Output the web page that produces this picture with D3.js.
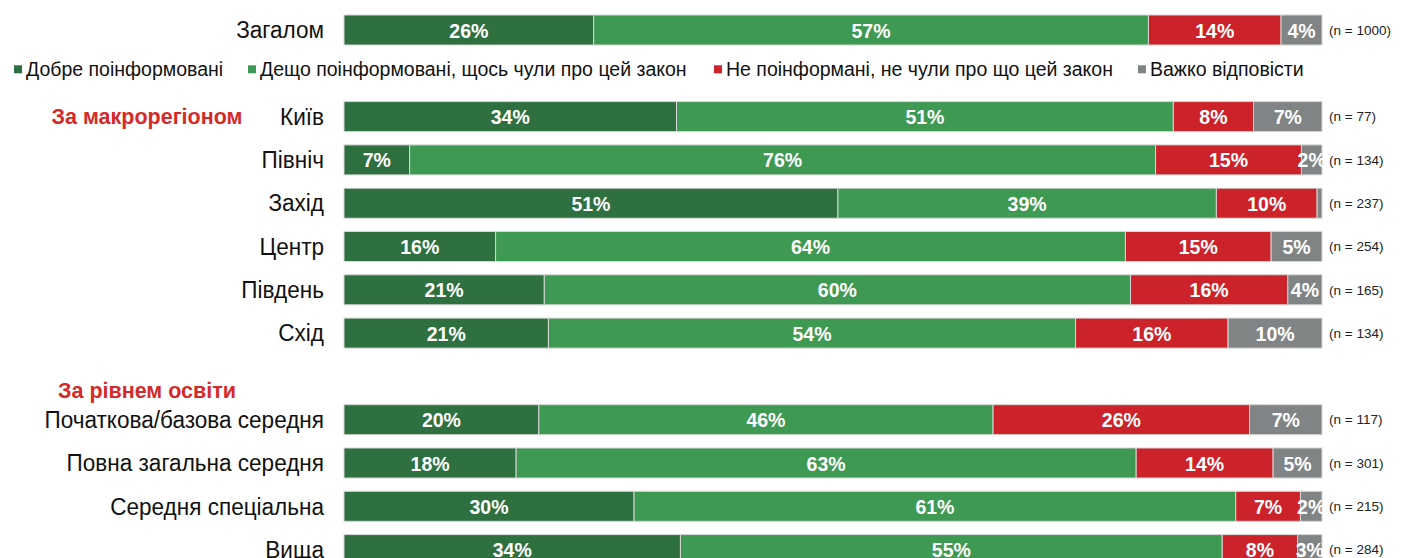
<!DOCTYPE html>
<html>
<head>
<meta charset="utf-8">
<script src="https://cdn.jsdelivr.net/npm/d3@7"></script>
<style>
  body { margin: 0; background: #fff; }
  svg { display: block; font-family: "Liberation Sans", Arial, sans-serif; }
</style>
</head>
<body>
<div id="chart"></div>
<script>
const width = 1405, height = 558;

// Data
const categories = ["Загалом", "Київ", "Північ", "Захід", "Центр", "Південь", "Схід",
  "Початкова/базова середня", "Повна загальна середня", "Середня спеціальна", "Вища"];
const series = ["Добре поінформовані", "Дещо поінформовані, щось чули про цей закон",
  "Не поінформані, не чули про що цей закон", "Важко відповісти"];
const wellInformed   = [25.6, 34.0,  6.7, 50.5, 15.5, 20.5, 20.9, 19.9, 17.6, 29.6, 34.4];
const someInformed   = [56.9, 50.8, 76.2, 38.7, 64.4, 60.0, 53.9, 46.4, 63.4, 61.4, 55.4];
const notInformed    = [13.6,  8.2, 14.9, 10.3, 14.9, 16.1, 15.6, 26.2, 14.0,  6.6,  7.7];
const hardToSay      = [ 4.2,  7.0,  2.1,  0.5,  5.2,  3.5,  9.6,  7.4,  5.0,  2.2,  2.5];
const sampleSizes    = [1000, 77, 134, 237, 254, 165, 134, 117, 301, 215, 284];
const sections = [{name: "За макрорегіоном", at: "Київ"}, {name: "За рівнем освіти", at: "__gap2"}];

const colors = ["#2e7040", "#3e9a53", "#cc2229", "#808484"];

// layout slots (gaps for legend and section spacing)
const slots = ["Загалом", "__legend", "Київ", "Північ", "Захід", "Центр", "Південь", "Схід", "__gap2",
  "Початкова/базова середня", "Повна загальна середня", "Середня спеціальна", "Вища"];

const x = d3.scaleLinear().domain([0, 100]).range([344, 1322]);
const y = d3.scalePoint().domain(slots).range([30, 549.6]);
const barH = 30;

const rows = categories.map((c, i) => {
  const vals = [wellInformed[i], someInformed[i], notInformed[i], hardToSay[i]];
  const total = d3.sum(vals);
  let acc = 0;
  const segs = vals.map((v, k) => {
    const s = {k, v, x0: acc / total * 100, x1: (acc + v) / total * 100};
    acc += v;
    return s;
  });
  return {name: c, n: sampleSizes[i], segs};
});

const svg = d3.select("#chart").append("svg")
  .attr("width", width).attr("height", height);

const row = svg.selectAll("g.row")
  .data(rows)
  .join("g")
  .attr("class", "row")
  .attr("transform", d => `translate(0,${y(d.name)})`);

row.append("text")
  .attr("transform", "translate(324,0) scale(0.96,1)")
  .attr("dy", "0.35em")
  .attr("text-anchor", "end")
  .attr("font-size", 23.5)
  .attr("fill", "#111")
  .text(d => d.name);

row.selectAll("rect")
  .data(d => d.segs)
  .join("rect")
  .attr("x", s => x(s.x0))
  .attr("y", -barH / 2)
  .attr("width", s => x(s.x1) - x(s.x0))
  .attr("height", barH)
  .attr("fill", s => colors[s.k])
  .attr("stroke", "#d6d6d6")
  .attr("stroke-width", 1);

row.selectAll("text.val")
  .data(d => d.segs.filter(s => s.v >= 1))
  .join("text")
  .attr("class", "val")
  .attr("transform", s => `translate(${(x(s.x0) + x(s.x1)) / 2},0) scale(0.93,1)`)
  .attr("dy", "0.36em")
  .attr("text-anchor", "middle")
  .attr("font-size", 21)
  .attr("font-weight", "bold")
  .attr("fill", "#fff")
  .text(s => Math.round(s.v) + "%");

row.append("text")
  .attr("x", 1329)
  .attr("dy", "0.35em")
  .attr("font-size", 13.5)
  .attr("fill", "#222")
  .text(d => `(n = ${d.n})`);

// section headers
svg.selectAll("text.section")
  .data(sections)
  .join("text")
  .attr("class", "section")
  .attr("x", 147)
  .attr("y", d => y(d.at) + (d.at === "Київ" ? 0 : 14))
  .attr("dy", "0.35em")
  .attr("text-anchor", "middle")
  .attr("font-size", 21.5)
  .attr("font-weight", "bold")
  .attr("fill", "#d42a2a")
  .text(d => d.name);

// legend
const legendX = [14, 248, 714, 1138];
const lg = svg.selectAll("g.legend")
  .data(series)
  .join("g")
  .attr("class", "legend")
  .attr("transform", (d, i) => `translate(${legendX[i]},${y("__legend") - 4})`);

lg.append("rect")
  .attr("x", 0).attr("y", -4)
  .attr("width", 8).attr("height", 8)
  .attr("fill", (d, i) => colors[i]);

lg.append("text")
  .attr("x", 12)
  .attr("dy", "0.35em")
  .attr("font-size", 19.5)
  .attr("fill", "#111")
  .text(d => d);
</script>
</body>
</html>
